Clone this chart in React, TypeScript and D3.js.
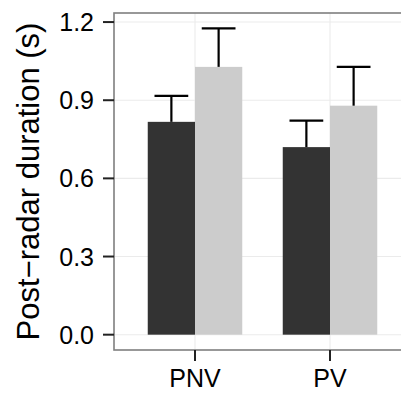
import { useEffect, useRef } from 'react';
import * as d3 from 'd3';

const categories = ['PNV', 'PV'];
const groups = ['dark', 'light'];
const darkMeans = [0.817, 0.72];
const darkUpper = [0.917, 0.822];
const lightMeans = [1.028, 0.879];
const lightUpper = [1.176, 1.028];
const yTicks = [0.0, 0.3, 0.6, 0.9, 1.2];

const groupColors = ['#333333', '#cccccc'];

interface Bar {
  cat: string;
  group: string;
  value: number;
  upper: number;
  color: string;
}

export default function App() {
  const svgRef = useRef<SVGSVGElement>(null);

  useEffect(() => {
    if (!svgRef.current) return;
    const svg = d3.select(svgRef.current);
    svg.selectAll('*').remove();

    const panel = { left: 114, right: 411, top: 13, bottom: 350 };
    const font = '"Liberation Sans", Arial, Helvetica, sans-serif';

    const bars: Bar[] = [];
    categories.forEach((c, i) => {
      bars.push({ cat: c, group: groups[0], value: darkMeans[i], upper: darkUpper[i], color: groupColors[0] });
      bars.push({ cat: c, group: groups[1], value: lightMeans[i], upper: lightUpper[i], color: groupColors[1] });
    });

    const maxVal = d3.max(bars, (d) => d.upper) || 0;
    const pad = maxVal * 0.05;
    const y = d3.scaleLinear().domain([-pad, maxVal + pad]).range([panel.bottom, panel.top]);

    const x = d3.scalePoint<string>().domain(categories).range([panel.left, panel.right]).padding(0.6);
    const step = x.step();
    const dodge = d3.scaleBand<string>().domain(groups).range([-0.35 * step, 0.35 * step]);
    const capHalf = 0.125 * step;

    // panel background + grid
    svg.append('rect')
      .attr('x', panel.left).attr('y', panel.top)
      .attr('width', panel.right - panel.left).attr('height', panel.bottom - panel.top)
      .attr('fill', '#ffffff');

    svg.selectAll('.hgrid').data(yTicks).enter().append('line')
      .attr('x1', panel.left).attr('x2', panel.right)
      .attr('y1', (d) => y(d)).attr('y2', (d) => y(d))
      .attr('stroke', '#ebebeb').attr('stroke-width', 1.1);

    svg.selectAll('.vgrid').data(categories).enter().append('line')
      .attr('x1', (d) => x(d)!).attr('x2', (d) => x(d)!)
      .attr('y1', panel.top).attr('y2', panel.bottom)
      .attr('stroke', '#ebebeb').attr('stroke-width', 1.1);

    // bars
    svg.selectAll('.bar').data(bars).enter().append('rect')
      .attr('x', (d) => x(d.cat)! + dodge(d.group)!)
      .attr('width', dodge.bandwidth())
      .attr('y', (d) => y(d.value))
      .attr('height', (d) => y(0) - y(d.value))
      .attr('fill', (d) => d.color);

    // error bars (upper only)
    const cx = (d: Bar) => x(d.cat)! + dodge(d.group)! + dodge.bandwidth() / 2;
    svg.selectAll('.err').data(bars).enter().append('line')
      .attr('x1', cx).attr('x2', cx)
      .attr('y1', (d) => y(d.value)).attr('y2', (d) => y(d.upper))
      .attr('stroke', '#000').attr('stroke-width', 2.2);
    svg.selectAll('.cap').data(bars).enter().append('line')
      .attr('x1', (d) => cx(d) - capHalf).attr('x2', (d) => cx(d) + capHalf)
      .attr('y1', (d) => y(d.upper)).attr('y2', (d) => y(d.upper))
      .attr('stroke', '#000').attr('stroke-width', 2.2);

    // panel border
    svg.append('rect')
      .attr('x', panel.left).attr('y', panel.top)
      .attr('width', panel.right - panel.left).attr('height', panel.bottom - panel.top)
      .attr('fill', 'none').attr('stroke', '#7f7f7f').attr('stroke-width', 1.6);

    // y axis ticks + labels
    svg.selectAll('.ytick').data(yTicks).enter().append('line')
      .attr('x1', panel.left - 11).attr('x2', panel.left)
      .attr('y1', (d) => y(d)).attr('y2', (d) => y(d))
      .attr('stroke', '#222').attr('stroke-width', 2);
    svg.selectAll('.ylab').data(yTicks).enter().append('text')
      .attr('x', 94).attr('y', (d) => y(d) + 9)
      .attr('text-anchor', 'end')
      .attr('font-family', font).attr('font-size', 25).attr('fill', '#000')
      .text((d) => d3.format('.1f')(d));

    // x axis ticks + labels
    svg.selectAll('.xtick').data(categories).enter().append('line')
      .attr('x1', (d) => x(d)!).attr('x2', (d) => x(d)!)
      .attr('y1', panel.bottom).attr('y2', panel.bottom + 11)
      .attr('stroke', '#222').attr('stroke-width', 2);
    svg.selectAll('.xlab').data(categories).enter().append('text')
      .attr('x', (d) => x(d)!).attr('y', 387)
      .attr('text-anchor', 'middle')
      .attr('font-family', font).attr('font-size', 25).attr('fill', '#000')
      .text((d) => d);

    // y title
    svg.append('text')
      .attr('transform', `translate(39,${(panel.top + panel.bottom) / 2}) rotate(-90)`)
      .attr('text-anchor', 'middle')
      .attr('font-family', font).attr('font-size', 31).attr('fill', '#000')
      .text('Post\u2212radar duration (s)');
  }, []);

  return (
    <div style={{ position: 'absolute', left: 0, top: 0 }}>
      <svg ref={svgRef} width={401} height={393} style={{ display: 'block', background: '#fff' }} />
    </div>
  );
}
